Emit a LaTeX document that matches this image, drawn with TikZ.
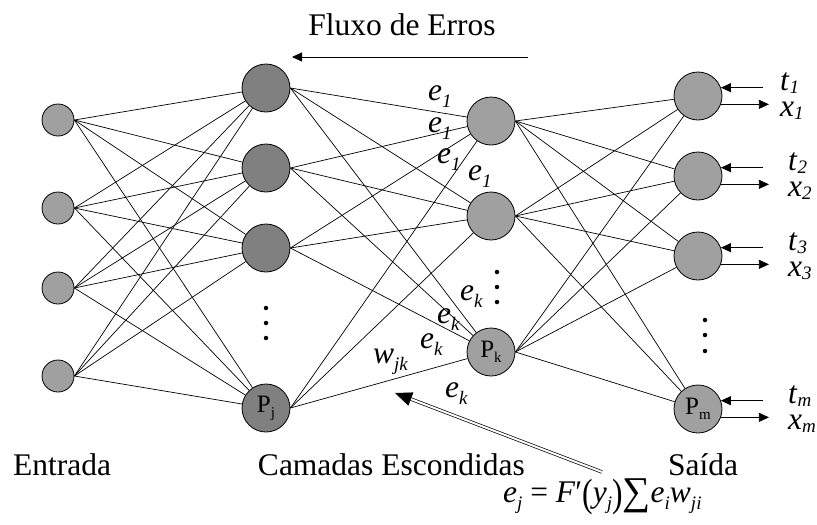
\documentclass[tikz,border=0pt]{standalone}
\usepackage{fontspec}
\usepackage{graphicx}
\setmainfont{Liberation Serif}
\usetikzlibrary{arrows.meta,calc}

\definecolor{darknode}{HTML}{808080}
\definecolor{lightnode}{HTML}{A0A0A0}

% italic subscript lowered by #1
\newcommand\lowsub[2]{\raisebox{-#1}{\fontsize{19}{19}\selectfont\itshape #2}}
% italic letter with italic subscript
\newcommand\elab[2]{\textit{#1}\lowsub{7pt}{#2}}
\newcommand\olab[2]{\textit{#1}\lowsub{3pt}{#2}}
% upright subscript inside a neuron
\newcommand\psub[1]{\raisebox{-5pt}{\fontsize{15}{15}\selectfont #1}}

\begin{document}
\begin{tikzpicture}[x=1pt,y=-1pt,
  neuron/.style={circle, draw, line width=0.8pt, inner sep=0pt,
                 font=\fontsize{25}{25}\selectfont},
  inp/.style={neuron, fill=lightnode, minimum size=32pt},
  hida/.style={neuron, fill=darknode, minimum size=48pt},
  hidb/.style={neuron, fill=lightnode, minimum size=48pt},
  outn/.style={neuron, fill=lightnode, minimum size=48pt},
  link/.style={line width=0.7pt},
  outarr/.style={line width=0.8pt, -{Triangle[length=10pt,width=9pt]}},
  dbl/.style={double, double distance=2pt, line width=0.7pt,
              -{Triangle[length=17pt,width=14pt]}},
  lbl/.style={font=\fontsize{31.5}{36}\selectfont, inner sep=0pt, anchor=base west},
  dot/.style={circle, fill=black, inner sep=0pt, minimum size=4.5pt}
]
\useasboundingbox (0,0) rectangle (817,525);

% input layer
\node[inp] (in1) at (58,120) {};
\node[inp] (in2) at (58,208) {};
\node[inp] (in3) at (58,288) {};
\node[inp] (in4) at (58,376) {};

% first hidden layer
\node[hida] (ha1) at (266,88) {};
\node[hida] (ha2) at (266,168) {};
\node[hida] (ha3) at (266,248) {};
\node[hida] (haj) at (266,408) {P\psub{j}};

% second hidden layer
\node[hidb] (hb1) at (491,121) {};
\node[hidb] (hb2) at (491,216) {};
\node[hidb] (hbk) at (491,352) {P\psub{k}};

% output layer
\node[outn] (o1) at (698,96) {};
\node[outn] (o2) at (698,176) {};
\node[outn] (o3) at (698,256) {};
\node[outn] (om) at (698,409) {P\psub{m}};

% ellipsis dots
\foreach \y [count=\i] in {308,323,338} \node[dot] (da\i) at (266,\y) {};
\foreach \y [count=\i] in {272,287,302} \node[dot] (db\i) at (497,\y) {};
\foreach \y [count=\i] in {320,335,351} \node[dot] (dc\i) at (705,\y) {};

% weights between layers
\foreach \s in {in1,in2,in3,in4}{\foreach \t in {ha1,ha2,ha3,haj}{\draw[link] (\s.east) -- (\t);}}
\foreach \s in {ha1,ha2,ha3,haj}{\foreach \t in {hb1,hb2,hbk}{\draw[link] (\s.east) -- (\t);}}
\foreach \s in {hb1,hb2,hbk}{\foreach \t in {o1,o2,o3,om}{\draw[link] (\s.east) -- (\t);}}

% targets in, outputs out
\foreach \n/\i/\lx/\cy in {o1/1/780/96, o2/2/788/176, o3/3/788/256, om/m/788/409}{
  \coordinate (ts\i) at ($(\n.20)+(42,0)$);
  \coordinate (xe\i) at ($(\n.-20)+(48,0)$);
  \draw[outarr] (ts\i) -- (\n.20);
  \draw[outarr] (\n.-20) -- (xe\i);
  \node[lbl] (tl\i) at (\lx,\cy-6) {\olab{t}{\i}};
  \node[lbl] (xl\i) at (\lx,\cy+20) {\olab{x}{\i}};
}

% error labels
\node[lbl] (ea) at (428,100) {\elab{e}{1}};
\node[lbl] (eb) at (428,132) {\elab{e}{1}};
\node[lbl] (ec) at (437,163) {\elab{e}{1}};
\node[lbl] (ed) at (468,180) {\elab{e}{1}};
\node[lbl] (ka) at (460,300) {\elab{e}{k}};
\node[lbl] (kb) at (437,323) {\elab{e}{k}};
\node[lbl] (kc) at (420,348) {\elab{e}{k}};
\node[lbl] (kd) at (445,397) {\elab{e}{k}};
\node[lbl] (wjk) at (373,363) {\elab{w}{jk}};

% error flow
\node[lbl, anchor=base] (flux) at (402,35) {Fluxo de Erros};
\coordinate (fs) at (528,57);
\coordinate (fe) at (292,57);
\draw[outarr] (fs) -- (fe);

% layer captions
\node[lbl, anchor=base] (cin) at (62,475) {Entrada};
\node[lbl, anchor=base east] (chid) at (525,475) {Camadas Escondidas};
\node[lbl, anchor=base] (cout) at (703,475) {Saída};

% back-propagation rule
\node[lbl] (formula) at (503,502) {\elab{e}{j} = \textit{F}′\raisebox{-4pt}{\scalebox{1}[1.25]{(}}\elab{y}{j}\raisebox{-4pt}{\scalebox{1}[1.25]{)}}\raisebox{-2pt}{\scalebox{1.25}{∑}}\elab{e}{i}\elab{w}{ji}};
\coordinate (ds) at (602,472);
\coordinate (dt) at (395,393);
\draw[dbl] (ds) -- (dt);
\end{tikzpicture}
\end{document}
